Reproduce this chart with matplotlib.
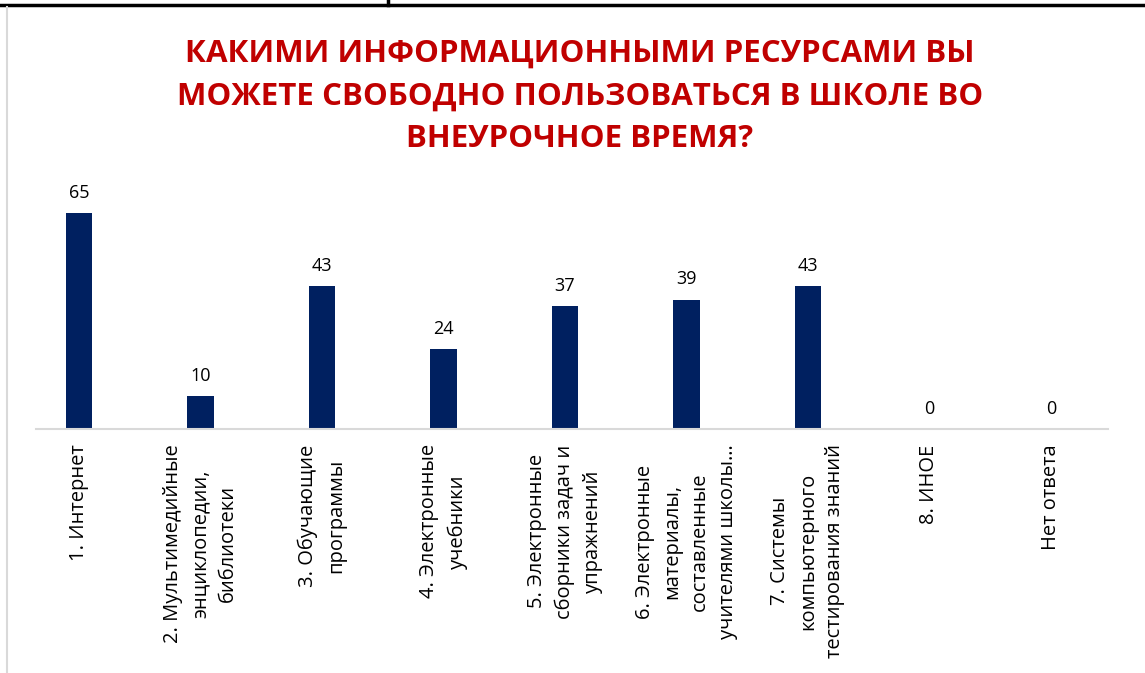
import matplotlib
matplotlib.use("Agg")
import matplotlib.pyplot as plt
from matplotlib.lines import Line2D

### Данные. ###
labels = [
    "1. Интернет",
    "2. Мультимедийные\nэнциклопедии,\nбиблиотеки",
    "3. Обучающие\nпрограммы",
    "4. Электронные\nучебники",
    "5. Электронные\nсборники задач и\nупражнений",
    "6. Электронные\nматериалы,\nсоставленные\nучителями школы…",
    "7. Системы\nкомпьютерного\nтестирования знаний",
    "8. ИНОЕ",
    "Нет ответа",
]
values = [65, 10, 43, 24, 37, 39, 43, 0, 0]

title = ("КАКИМИ ИНФОРМАЦИОННЫМИ РЕСУРСАМИ ВЫ\n"
         "МОЖЕТЕ СВОБОДНО ПОЛЬЗОВАТЬСЯ В ШКОЛЕ ВО\n"
         "ВНЕУРОЧНОЕ ВРЕМЯ?")

plt.rcParams['font.family'] = ['Open Sans', 'DejaVu Sans']

W, H = 1145, 673
fig = plt.figure(figsize=(W / 100, H / 100), dpi=100)

### Оси в пикселях. ###
left, right, bottom, top = 36, 1108, 429, 190
ax = fig.add_axes([left / W, 1 - bottom / H, (right - left) / W, (bottom - top) / H])

x = list(range(len(values)))
bars = ax.bar(x, values, width=0.22, color='#002060')
for b, v in zip(bars, values):
    ax.annotate(str(v), (b.get_x() + b.get_width() / 2, v), xytext=(0, 8),
                textcoords='offset points', ha='center', va='bottom',
                fontsize=13, color='#000000')

ax.set_xlim(-0.354, 8.47)
ax.set_ylim(0, 239 / 3.32)
ax.set_yticks([])
ax.set_xticks(x)
ax.set_xticklabels(labels, rotation=90, ha='center', va='top',
                   multialignment='center', fontsize=14.5, linespacing=1.5)
ax.tick_params(axis='x', length=0, pad=11)
for s in ['top', 'right', 'left']:
    ax.spines[s].set_visible(False)
ax.spines['bottom'].set_color('#d9d9d9')
ax.spines['bottom'].set_linewidth(1.5)

fig.text(580 / W, 1 - 39 / H, title, ha='center', va='top', fontsize=22.5,
         fontweight='bold', color='#c00000', linespacing=1.55)

### Рамка. ###
fig.add_artist(Line2D([0, 1], [1 - 5 / H, 1 - 5 / H], color='black', lw=2.5))
fig.add_artist(Line2D([388 / W, 388 / W], [1, 1 - 5 / H], color='black', lw=2.5))
fig.add_artist(Line2D([6.5 / W, 6.5 / W], [1 - 7 / H, 0], color='#d9d9d9', lw=1.5))

fig.savefig('out.png', dpi=100)
